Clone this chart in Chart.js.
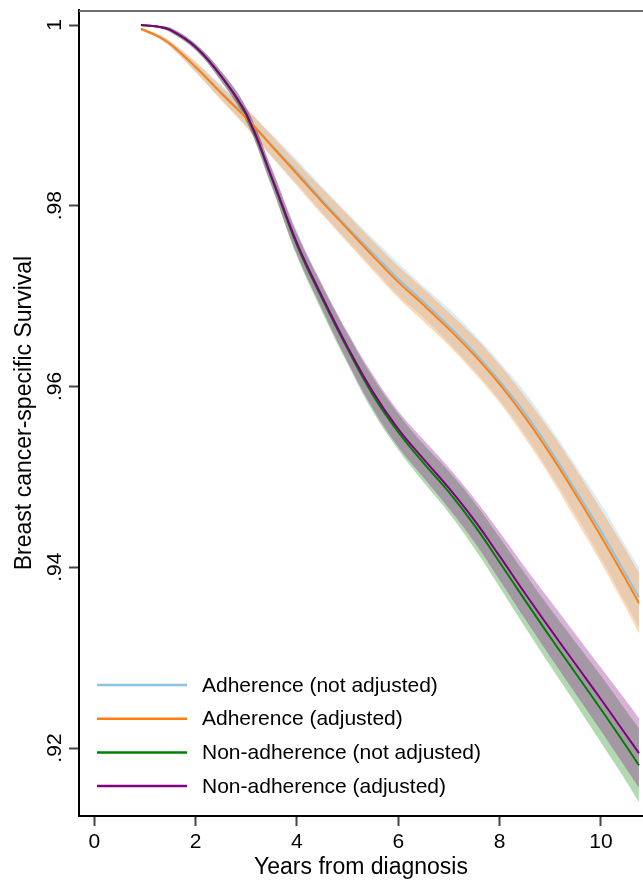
<!DOCTYPE html>
<html>
<head>
<meta charset="utf-8">
<title>Breast cancer-specific survival</title>
<script src="https://cdn.jsdelivr.net/npm/chart.js@4.4.1/dist/chart.umd.min.js"></script>
<style>
    html, body { margin: 0; padding: 0; background: #fff; }
    #wrap { width: 643px; height: 887px; }
</style>
</head>
<body>
<div id="wrap"><canvas id="myChart" width="643" height="887"></canvas></div>
<script>
// Values (years from diagnosis / survival)
var years = [0.92, 1.25, 1.5, 2, 2.5, 3, 3.5, 4, 4.5, 5, 5.5, 6, 6.5, 7, 7.5, 8, 8.5, 9, 9.5, 10, 10.5, 10.75];

var adhNotAdj   = [0.99956, 0.99878, 0.99790, 0.99535, 0.99258, 0.98982, 0.98672, 0.98373, 0.98063, 0.97764, 0.97476, 0.97189, 0.96934, 0.96668, 0.96381, 0.96060, 0.95706, 0.95296, 0.94853, 0.94400, 0.93913, 0.93669];
var adhNotAdjLo = [0.9995, 0.9986, 0.9976, 0.9948, 0.9918, 0.9888, 0.9855, 0.9824, 0.9792, 0.9761, 0.9731, 0.9701, 0.9676, 0.9648, 0.9618, 0.9585, 0.9547, 0.9504, 0.9458, 0.9410, 0.9359, 0.9334];
var adhNotAdjHi = [0.9997, 0.9990, 0.9982, 0.9959, 0.9934, 0.9908, 0.9879, 0.9851, 0.9821, 0.9792, 0.9764, 0.9737, 0.9711, 0.9686, 0.9658, 0.9627, 0.9594, 0.9555, 0.9513, 0.9470, 0.9423, 0.9400];

var adhAdj   = [0.99956, 0.99878, 0.99790, 0.99535, 0.99247, 0.98971, 0.98661, 0.98351, 0.98041, 0.97742, 0.97443, 0.97155, 0.96901, 0.96635, 0.96348, 0.96027, 0.95661, 0.95252, 0.94809, 0.94344, 0.93857, 0.93603];
var adhAdjLo = [0.9995, 0.9986, 0.9976, 0.9948, 0.9917, 0.9887, 0.9854, 0.9822, 0.9790, 0.9759, 0.9728, 0.9698, 0.9672, 0.9645, 0.9615, 0.9582, 0.9543, 0.9500, 0.9453, 0.9405, 0.9354, 0.9327];
var adhAdjHi = [0.9997, 0.9990, 0.9982, 0.9959, 0.9932, 0.9907, 0.9878, 0.9848, 0.9819, 0.9790, 0.9761, 0.9733, 0.9708, 0.9682, 0.9655, 0.9624, 0.9589, 0.9551, 0.9509, 0.9464, 0.9418, 0.9394];

var nonNotAdj   = [1.00000, 0.99983, 0.99945, 0.99757, 0.99436, 0.99004, 0.98307, 0.97565, 0.96967, 0.96414, 0.95905, 0.95495, 0.95152, 0.94831, 0.94466, 0.94056, 0.93636, 0.93226, 0.92828, 0.92429, 0.92020, 0.91810];
var nonNotAdjLo = [0.9999, 0.9997, 0.9992, 0.9972, 0.9938, 0.9893, 0.9821, 0.9744, 0.9682, 0.9625, 0.9572, 0.9530, 0.9494, 0.9460, 0.9421, 0.9378, 0.9334, 0.9291, 0.9249, 0.9206, 0.9163, 0.9140];
var nonNotAdjHi = [1.0000, 0.9999, 0.9997, 0.9979, 0.9949, 0.9908, 0.9841, 0.9769, 0.9711, 0.9658, 0.9610, 0.9570, 0.9536, 0.9506, 0.9472, 0.9433, 0.9393, 0.9354, 0.9317, 0.9280, 0.9241, 0.9222];

var nonAdj   = [1.00000, 0.99983, 0.99945, 0.99757, 0.99436, 0.99015, 0.98318, 0.97587, 0.96990, 0.96436, 0.95938, 0.95528, 0.95196, 0.94875, 0.94521, 0.94123, 0.93713, 0.93315, 0.92927, 0.92540, 0.92142, 0.91943];
var nonAdjLo = [0.9999, 0.9997, 0.9992, 0.9972, 0.9938, 0.9894, 0.9822, 0.9746, 0.9685, 0.9627, 0.9575, 0.9533, 0.9499, 0.9465, 0.9428, 0.9386, 0.9343, 0.9301, 0.9260, 0.9219, 0.9177, 0.9156];
var nonAdjHi = [1.0000, 0.9999, 0.9997, 0.9979, 0.9949, 0.9909, 0.9842, 0.9771, 0.9713, 0.9660, 0.9613, 0.9573, 0.9541, 0.9510, 0.9476, 0.9439, 0.9400, 0.9363, 0.9326, 0.9289, 0.9252, 0.9233];

var xTicks = [0, 2, 4, 6, 8, 10];
var yTicks = [0.92, 0.94, 0.96, 0.98, 1];
var yTickLabels = ['.92', '.94', '.96', '.98', '1'];

var FONT = '"Liberation Sans", Arial, sans-serif';

function pts(vals) {
    return years.map(function (x, i) { return { x: x, y: vals[i] }; });
}

function lineSet(label, vals, color) {
    return {
        label: label, data: pts(vals), borderColor: color, backgroundColor: color,
        borderWidth: 2, pointRadius: 0, fill: false, tension: 0.4
    };
}

function bandEdge(vals, fillColor) {
    return {
        label: '', data: pts(vals), borderWidth: 0, borderColor: 'rgba(0,0,0,0)',
        pointRadius: 0, tension: 0.4,
        fill: fillColor ? '-1' : false, backgroundColor: fillColor || 'rgba(0,0,0,0)'
    };
}

var legendItems = [
    { label: 'Adherence (not adjusted)', color: '#8cc3e6' },
    { label: 'Adherence (adjusted)', color: '#ff7f0e' },
    { label: 'Non-adherence (not adjusted)', color: '#008000' },
    { label: 'Non-adherence (adjusted)', color: '#800080' }
];

// draws rotated y tick labels, top frame line and the legend inside the plot
var extrasPlugin = {
    id: 'extras',
    afterDraw: function (chart) {
        var ctx = chart.ctx;
        var area = chart.chartArea;
        var yScale = chart.scales.y;
        ctx.save();

        ctx.strokeStyle = '#6e6e6e';
        ctx.lineWidth = 2;
        ctx.beginPath();
        ctx.moveTo(area.left, area.top + 1);
        ctx.lineTo(area.right, area.top + 1);
        ctx.stroke();

        ctx.fillStyle = '#000';
        ctx.font = '21px ' + FONT;
        ctx.textAlign = 'center';
        ctx.textBaseline = 'alphabetic';
        for (var i = 0; i < yTicks.length; i++) {
            var y = yScale.getPixelForValue(yTicks[i]);
            ctx.save();
            ctx.translate(area.left - 18, y);
            ctx.rotate(-Math.PI / 2);
            ctx.fillText(yTickLabels[i], 0, 0);
            ctx.restore();
        }

        ctx.textAlign = 'left';
        ctx.textBaseline = 'middle';
        for (var j = 0; j < legendItems.length; j++) {
            var ly = area.bottom - 131 + j * 33.7;
            ctx.strokeStyle = legendItems[j].color;
            ctx.lineWidth = 2.5;
            ctx.beginPath();
            ctx.moveTo(area.left + 18, ly);
            ctx.lineTo(area.left + 108, ly);
            ctx.stroke();
            ctx.fillStyle = '#000';
            ctx.fillText(legendItems[j].label, area.left + 123, ly + 1);
        }
        ctx.restore();
    }
};

Chart.defaults.font.family = FONT;
Chart.defaults.color = '#000';

var config = {
    type: 'line',
    data: {
        datasets: [
            lineSet('Non-adherence (adjusted)', nonAdj, '#800080'),
            lineSet('Non-adherence (not adjusted)', nonNotAdj, '#008000'),
            lineSet('Adherence (adjusted)', adhAdj, '#ff7f0e'),
            lineSet('Adherence (not adjusted)', adhNotAdj, '#8cc3e6'),
            bandEdge(nonAdjLo), bandEdge(nonAdjHi, 'rgba(128,0,128,0.3)'),
            bandEdge(nonNotAdjLo), bandEdge(nonNotAdjHi, 'rgba(0,128,0,0.3)'),
            bandEdge(adhAdjLo), bandEdge(adhAdjHi, 'rgba(255,127,14,0.3)'),
            bandEdge(adhNotAdjLo), bandEdge(adhNotAdjHi, 'rgba(142,196,232,0.3)')
        ]
    },
    options: {
        responsive: false,
        animation: false,
        layout: { padding: { left: 0, right: 0, top: 10, bottom: 0 } },
        plugins: {
            legend: { display: false },
            tooltip: { enabled: false },
            filler: { drawTime: 'beforeDatasetsDraw' }
        },
        scales: {
            x: {
                type: 'linear', min: -0.302, max: 10.83,
                afterBuildTicks: function (s) { s.ticks = xTicks.map(function (v) { return { value: v }; }); },
                afterFit: function (s) { s.height = 71; },
                ticks: { font: { size: 21 }, color: '#000', padding: 4, maxRotation: 0 },
                grid: { drawOnChartArea: false, tickLength: 10, tickWidth: 2, tickColor: '#444' },
                border: { color: '#000', width: 2 },
                title: { display: true, text: 'Years from diagnosis', font: { size: 23 }, color: '#000', padding: { top: 0, bottom: 6 } }
            },
            y: {
                type: 'linear', min: 0.91248, max: 1.00166,
                afterBuildTicks: function (s) { s.ticks = yTicks.map(function (v) { return { value: v }; }); },
                afterFit: function (s) { s.width = 79; },
                ticks: { display: false },
                grid: { drawOnChartArea: false, tickLength: 10, tickWidth: 2, tickColor: '#444' },
                border: { color: '#000', width: 2 },
                title: { display: true, text: 'Breast cancer-specific Survival', font: { size: 23 }, color: '#000', padding: { top: 11, bottom: 0 } }
            }
        }
    },
    plugins: [extrasPlugin]
};

var myChart = new Chart(document.getElementById('myChart'), config);
</script>
</body>
</html>
